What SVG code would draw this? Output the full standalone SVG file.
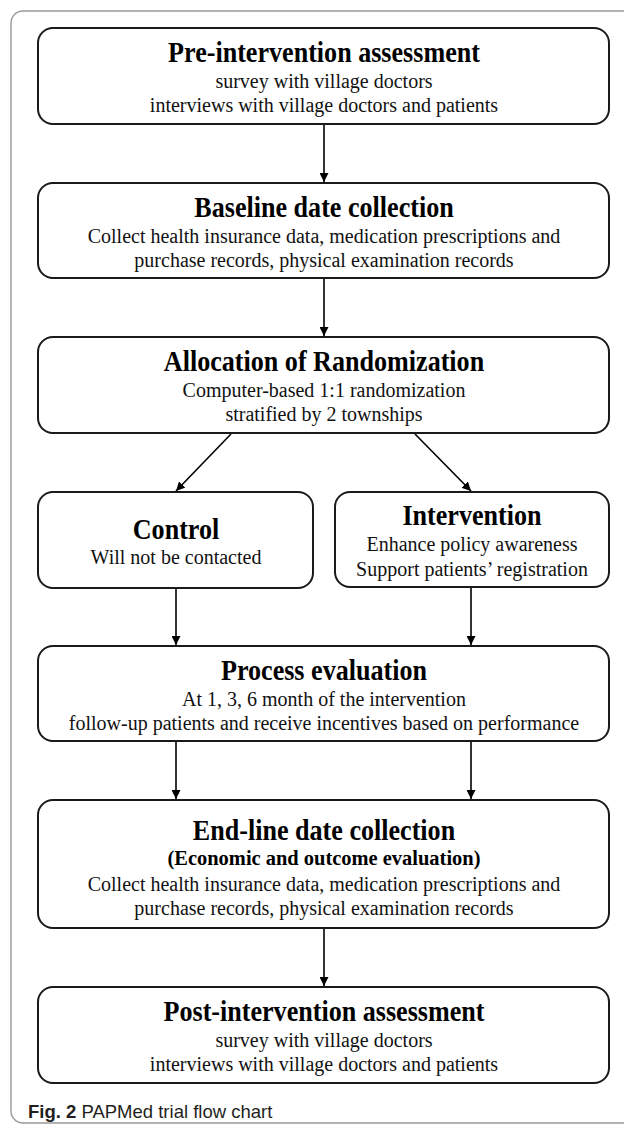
<svg xmlns="http://www.w3.org/2000/svg" width="624" height="1124" viewBox="0 0 624 1124">
<style>
.box{fill:#fff;stroke:#1a1a1a;stroke-width:2}
.t{font-family:"Liberation Serif","Times New Roman",serif;font-weight:bold;font-size:29px;text-anchor:middle;fill:#000}
.s{font-family:"Liberation Serif","Times New Roman",serif;font-size:20px;text-anchor:middle;fill:#111}
.sb{font-family:"Liberation Serif","Times New Roman",serif;font-weight:bold;font-size:22px;text-anchor:middle;fill:#000}
.c{stroke:#000;stroke-width:1.6;fill:none}
.cap{font-family:"Liberation Sans",Arial,sans-serif;font-size:18.5px;fill:#231f20}
</style>
<defs>
<marker id="ah" viewBox="0 0 10 10" refX="10" refY="5" markerWidth="9" markerHeight="9" markerUnits="userSpaceOnUse" orient="auto">
<path d="M0,0 L10,5 L0,10 z" fill="#000"/>
</marker>
</defs>
<rect x="11" y="11" width="700" height="1112" rx="12" fill="#fff" stroke="#9a9a9a" stroke-width="1.4"/>
<g id="connectors">
<line class="c" x1="324" y1="125" x2="324" y2="182" marker-end="url(#ah)"/>
<line class="c" x1="324" y1="279" x2="324" y2="336" marker-end="url(#ah)"/>
<line class="c" x1="231" y1="434" x2="176" y2="491" marker-end="url(#ah)"/>
<line class="c" x1="415" y1="434" x2="471" y2="491" marker-end="url(#ah)"/>
<line class="c" x1="176" y1="589" x2="176" y2="645" marker-end="url(#ah)"/>
<line class="c" x1="471" y1="588" x2="471" y2="645" marker-end="url(#ah)"/>
<line class="c" x1="176" y1="742" x2="176" y2="799" marker-end="url(#ah)"/>
<line class="c" x1="471" y1="742" x2="471" y2="799" marker-end="url(#ah)"/>
<line class="c" x1="324" y1="929" x2="324" y2="986" marker-end="url(#ah)"/>
</g>
<g id="pre">
<rect class="box" x="38" y="28" width="571" height="96" rx="15"/>
<text class="t" transform="translate(324 62) scale(0.9 1)">Pre-intervention assessment</text>
<text class="s" x="324" y="88">survey with village doctors</text>
<text class="s" x="324" y="112">interviews with village doctors and patients</text>
</g>
<g id="baseline">
<rect class="box" x="38" y="183" width="571" height="95" rx="15"/>
<text class="t" transform="translate(324 217) scale(0.9 1)">Baseline date collection</text>
<text class="s" x="324" y="243">Collect health insurance data, medication prescriptions and</text>
<text class="s" x="324" y="267">purchase records, physical examination records</text>
</g>
<g id="allocation">
<rect class="box" x="38" y="337" width="571" height="96" rx="15"/>
<text class="t" transform="translate(324 371) scale(0.9 1)">Allocation of Randomization</text>
<text class="s" x="324" y="397">Computer-based 1:1 randomization</text>
<text class="s" x="324" y="421">stratified by 2 townships</text>
</g>
<g id="control">
<rect class="box" x="38" y="492" width="275" height="96" rx="15"/>
<text class="t" transform="translate(176 539) scale(0.9 1)">Control</text>
<text class="s" x="176" y="564">Will not be contacted</text>
</g>
<g id="intervention">
<rect class="box" x="335" y="492" width="274" height="95" rx="15"/>
<text class="t" transform="translate(472 525) scale(0.9 1)">Intervention</text>
<text class="s" x="472" y="551">Enhance policy awareness</text>
<text class="s" x="472" y="576">Support patients’ registration</text>
</g>
<g id="process">
<rect class="box" x="38" y="646" width="571" height="95" rx="15"/>
<text class="t" transform="translate(324 680) scale(0.9 1)">Process evaluation</text>
<text class="s" x="324" y="706">At 1, 3, 6 month of the intervention</text>
<text class="s" x="324" y="730">follow-up patients and receive incentives based on performance</text>
</g>
<g id="endline">
<rect class="box" x="38" y="800" width="571" height="128" rx="15"/>
<text class="t" transform="translate(324 840) scale(0.9 1)">End-line date collection</text>
<text class="sb" transform="translate(324 865) scale(0.93 1)">(Economic and outcome evaluation)</text>
<text class="s" x="324" y="891">Collect health insurance data, medication prescriptions and</text>
<text class="s" x="324" y="915">purchase records, physical examination records</text>
</g>
<g id="post">
<rect class="box" x="38" y="987" width="571" height="96" rx="15"/>
<text class="t" transform="translate(324 1021) scale(0.9 1)">Post-intervention assessment</text>
<text class="s" x="324" y="1047">survey with village doctors</text>
<text class="s" x="324" y="1071">interviews with village doctors and patients</text>
</g>
<text class="cap" x="28" y="1118"><tspan font-weight="bold">Fig. 2</tspan>  PAPMed trial flow chart</text>
</svg>
